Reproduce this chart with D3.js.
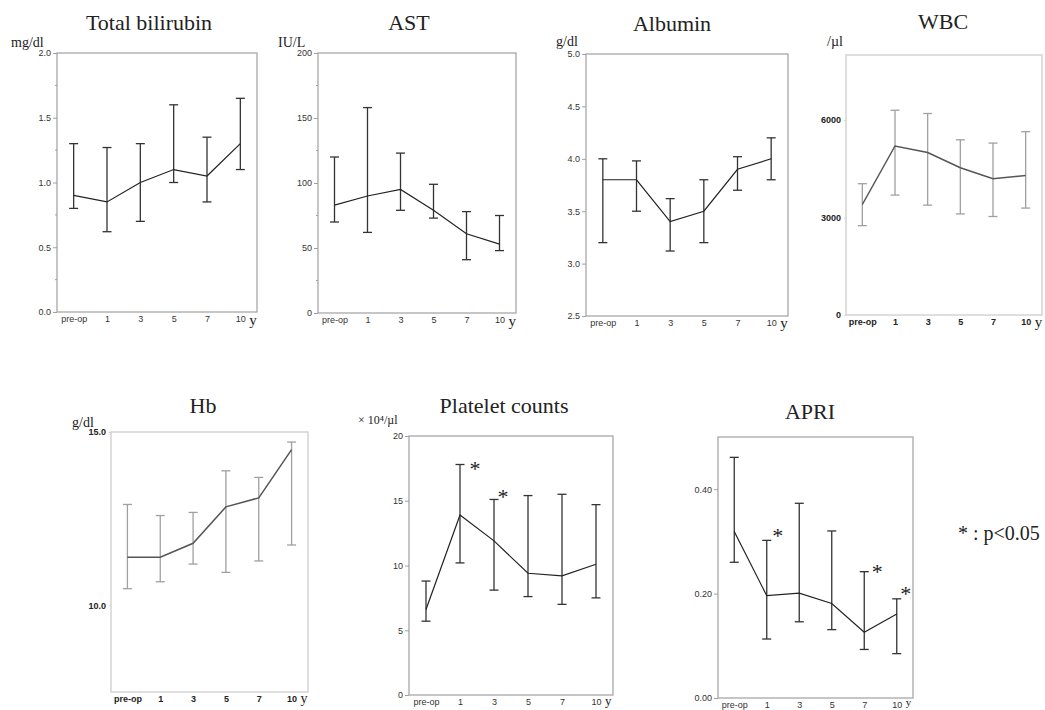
<!DOCTYPE html>
<html>
<head>
<meta charset="utf-8">
<script src="https://cdn.jsdelivr.net/npm/d3@7"></script>
<style>
  body { margin: 0; background: #fff; }
  svg { display: block; }
</style>
</head>
<body>
<svg id="chart" width="1045" height="710"></svg>
<script>
// ---------- DATA ----------
const categories = ["pre-op", "1", "3", "5", "7", "10"];

const bilirubinMean = [0.90, 0.85, 1.00, 1.10, 1.05, 1.30];
const bilirubinLow  = [0.80, 0.62, 0.70, 1.00, 0.85, 1.10];
const bilirubinHigh = [1.30, 1.27, 1.30, 1.60, 1.35, 1.65];
const bilirubinTicks = [0, 0.5, 1.0, 1.5, 2.0];

const astMean = [83, 90, 95, 79, 61, 53];
const astLow  = [70, 62, 79, 73, 41, 48];
const astHigh = [120, 158, 123, 99, 78, 75];
const astTicks = [0, 50, 100, 150, 200];

const albuminMean = [3.80, 3.80, 3.40, 3.50, 3.90, 4.00];
const albuminLow  = [3.20, 3.50, 3.12, 3.20, 3.70, 3.80];
const albuminHigh = [4.00, 3.98, 3.62, 3.80, 4.02, 4.20];
const albuminTicks = [2.5, 3.0, 3.5, 4.0, 4.5, 5.0];

const wbcMean = [3400, 5200, 5000, 4530, 4190, 4290];
const wbcLow  = [2750, 3690, 3380, 3110, 3030, 3290];
const wbcHigh = [4040, 6300, 6200, 5390, 5290, 5640];
const wbcTicks = [0, 3000, 6000];

const hbMean = [11.39, 11.39, 11.79, 12.84, 13.10, 14.49];
const hbLow  = [10.48, 10.68, 11.19, 10.95, 11.28, 11.74];
const hbHigh = [12.91, 12.59, 12.68, 13.88, 13.69, 14.71];
const hbTicks = [10.0, 15.0];

const plateletMean = [6.6, 13.9, 11.9, 9.4, 9.2, 10.1];
const plateletLow  = [5.7, 10.2, 8.1, 7.6, 7.0, 7.5];
const plateletHigh = [8.8, 17.8, 15.1, 15.4, 15.5, 14.7];
const plateletTicks = [0, 5, 10, 15, 20];
const plateletSignif = ["1", "3"];

const apriMean = [0.319, 0.196, 0.201, 0.181, 0.126, 0.161];
const apriLow  = [0.260, 0.113, 0.146, 0.131, 0.093, 0.085];
const apriHigh = [0.461, 0.302, 0.373, 0.320, 0.242, 0.190];
const apriTicks = [0, 0.20, 0.40];
const apriSignif = ["1", "7", "10"];

const legendText = "* : p<0.05";

// ---------- LAYOUT / STYLE ----------
const serif = "'Liberation Serif', 'Times New Roman', Times, serif";
const sans = "'Liberation Sans', Arial, Helvetica, sans-serif";

const darkStyle = { frame: "#a0a0a0", frameW: 1.2, bar: "#333", line: "#222", lineW: 1.2, label: "#333", bold: false };
const lightStyle = { frame: "#d4d4d4", frameW: 1.5, bar: "#a0a0a0", line: "#555", lineW: 1.5, label: "#222", bold: true };

const panels = [
  { title: "Total bilirubin", unit: "mg/dl", box: [57, 53, 257, 312], titleX: 149, titleY: 30, unitX: 11, unitY: 47,
    mean: bilirubinMean, low: bilirubinLow, high: bilirubinHigh, domain: [0, 2], ticks: bilirubinTicks, fmt: d3.format(".1f"),
    minor: true, style: darkStyle, yLetter: [15, 13] },
  { title: "AST", unit: "IU/L", box: [318, 53, 516, 313], titleX: 409, titleY: 30, unitX: 278, unitY: 47,
    mean: astMean, low: astLow, high: astHigh, domain: [0, 200], ticks: astTicks, fmt: d3.format("d"),
    minor: true, style: darkStyle, yLetter: [15, 13] },
  { title: "Albumin", unit: "g/dl", box: [586, 54, 788, 316], titleX: 672, titleY: 31, unitX: 556, unitY: 46,
    mean: albuminMean, low: albuminLow, high: albuminHigh, domain: [2.5, 5], ticks: albuminTicks, fmt: d3.format(".1f"),
    minor: false, style: darkStyle, yLetter: [15, 12] },
  { title: "WBC", unit: "/\u00b5l", box: [846, 55, 1042, 315], titleX: 943, titleY: 29, unitX: 827, unitY: 46,
    mean: wbcMean, low: wbcLow, high: wbcHigh, domain: [0, 8000], ticks: wbcTicks, fmt: d3.format("d"),
    minor: false, style: lightStyle, yLetter: [15, 12] },
  { title: "Hb", unit: "g/dl", box: [111, 432, 308, 692], titleX: 203, titleY: 413, unitX: 72, unitY: 427,
    mean: hbMean, low: hbLow, high: hbHigh, domain: [7.5, 15], ticks: hbTicks, fmt: d3.format(".1f"),
    minor: false, style: lightStyle, yLetter: [14, 11] },
  { title: "Platelet counts", unit: "\u00d7 10\u2074/\u00b5l", unitSize: 12, box: [409, 436, 613, 695], titleX: 504, titleY: 413, unitX: 358, unitY: 424,
    mean: plateletMean, low: plateletLow, high: plateletHigh, domain: [0, 20], ticks: plateletTicks, fmt: d3.format("d"),
    minor: false, style: darkStyle, signif: plateletSignif, starOffsets: [[15, 0], [9, -7]], yLetter: [13, 10] },
  { title: "APRI", unit: "", box: [718, 437, 913, 698], titleX: 810, titleY: 419, unitX: 0, unitY: 0,
    mean: apriMean, low: apriLow, high: apriHigh, domain: [0, 0.5], ticks: apriTicks, fmt: d3.format(".2f"),
    minor: false, style: darkStyle, signif: apriSignif, starOffsets: [[11, -9], [13, -5], [9, -10]], yLetter: [11, 8] }
];

const svg = d3.select("#chart");

panels.forEach(p => {
  const [x0, y0, x1, y1] = p.box;
  const st = p.style;
  const g = svg.append("g");

  const x = d3.scalePoint().domain(categories).range([x0, x1]).padding(0.5);
  const y = d3.scaleLinear().domain(p.domain).range([y1, y0]);

  // frame
  g.append("rect")
    .attr("x", x0).attr("y", y0).attr("width", x1 - x0).attr("height", y1 - y0)
    .attr("fill", "none").attr("stroke", st.frame).attr("stroke-width", st.frameW);

  // y axis
  const yAxis = d3.axisLeft(y).tickValues(p.ticks).tickFormat(p.fmt)
    .tickSize(st.bold ? 2 : 4).tickPadding(st.bold ? 3 : 2);
  const ya = g.append("g").attr("transform", `translate(${x0},0)`).call(yAxis);
  ya.select(".domain").remove();
  ya.selectAll(".tick line").attr("stroke", st.frame);
  ya.selectAll("text").attr("font-family", sans).attr("font-size", 9)
    .attr("fill", st.label).attr("font-weight", st.bold ? "bold" : "normal");

  // minor ticks
  if (p.minor) {
    const step = p.ticks[1] - p.ticks[0];
    const minors = p.ticks.slice(0, -1).map(t => t + step / 2);
    g.selectAll(".minor").data(minors).join("line")
      .attr("x1", x0 - 2).attr("x2", x0)
      .attr("y1", d => y(d)).attr("y2", d => y(d))
      .attr("stroke", st.frame).attr("stroke-width", 1);
  }

  // x axis
  const xAxis = d3.axisBottom(x).tickSize(0).tickPadding(4);
  const xa = g.append("g").attr("transform", `translate(0,${y1})`).call(xAxis);
  xa.select(".domain").remove();
  xa.selectAll("text").attr("font-family", sans).attr("font-size", 9)
    .attr("fill", st.label).attr("font-weight", st.bold ? "bold" : "normal");

  // "y" unit after last category
  g.append("text")
    .attr("x", x(categories[categories.length - 1]) + 9)
    .attr("y", y1 + p.yLetter[1])
    .attr("font-family", serif).attr("font-size", p.yLetter[0]).attr("fill", "#222")
    .text("y");

  // error bars
  const capW = 4.5;
  const bars = g.append("g").attr("stroke", st.bar).attr("stroke-width", 1.3).attr("fill", "none");
  categories.forEach((c, i) => {
    const cx = x(c);
    bars.append("line").attr("x1", cx).attr("x2", cx).attr("y1", y(p.low[i])).attr("y2", y(p.high[i]));
    bars.append("line").attr("x1", cx - capW).attr("x2", cx + capW).attr("y1", y(p.low[i])).attr("y2", y(p.low[i]));
    bars.append("line").attr("x1", cx - capW).attr("x2", cx + capW).attr("y1", y(p.high[i])).attr("y2", y(p.high[i]));
  });

  // mean line
  const line = d3.line().x((d, i) => x(categories[i])).y(d => y(d));
  g.append("path").datum(p.mean)
    .attr("d", line).attr("fill", "none")
    .attr("stroke", st.line).attr("stroke-width", st.lineW);

  // title
  g.append("text")
    .attr("x", p.titleX).attr("y", p.titleY)
    .attr("text-anchor", "middle")
    .attr("font-family", serif).attr("font-size", 22).attr("fill", "#222")
    .text(p.title);

  // unit
  if (p.unit) {
    g.append("text")
      .attr("x", p.unitX).attr("y", p.unitY)
      .attr("font-family", serif).attr("font-size", p.unitSize || 14).attr("fill", "#222")
      .text(p.unit);
  }

  // significance asterisks
  if (p.signif) {
    p.signif.forEach((c, k) => {
      const i = categories.indexOf(c);
      const [dx, dy] = p.starOffsets[k];
      g.append("text")
        .attr("x", x(c) + dx)
        .attr("y", y(p.high[i]) + dy + 12)
        .attr("text-anchor", "middle")
        .attr("font-family", serif).attr("font-size", 22).attr("fill", "#222")
        .text("*");
    });
  }
});

// legend
svg.append("text")
  .attr("x", 958).attr("y", 540)
  .attr("font-family", serif).attr("font-size", 20).attr("fill", "#222")
  .text(legendText);
</script>
</body>
</html>
